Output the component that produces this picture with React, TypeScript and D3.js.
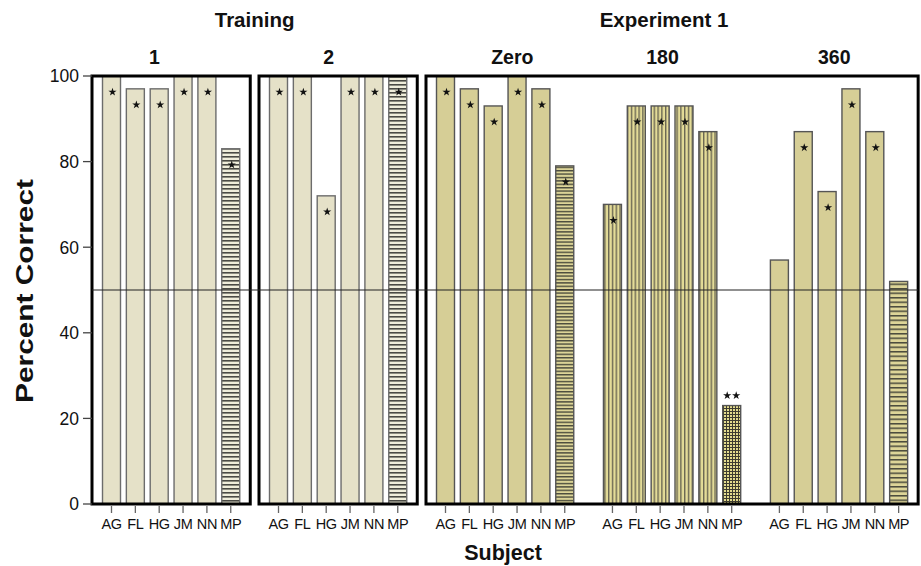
import React from 'react';
import * as d3 from 'd3';

const subjects = ['AG', 'FL', 'HG', 'JM', 'NN', 'MP'];
const training1 = [100, 97, 97, 100, 100, 83];
const training2 = [100, 100, 72, 100, 100, 100];
const expZero = [100, 97, 93, 100, 97, 79];
const exp180 = [70, 93, 93, 93, 87, 23];
const exp360 = [57, 87, 73, 97, 87, 52];
// 1 = star inside bar, 2 = double star above bar, 0 = none
const marks1 = [1, 1, 1, 1, 1, 1];
const marks2 = [1, 1, 1, 1, 1, 1];
const marksZero = [1, 1, 1, 1, 1, 1];
const marks180 = [1, 1, 1, 1, 1, 2];
const marks360 = [0, 1, 1, 1, 1, 0];
const groupLabels = ['1', '2', 'Zero', '180', '360'];
const yTicks = [0, 20, 40, 60, 80, 100];
const chanceLevel = 50;

const FONT = "'Liberation Sans', Arial, Helvetica, sans-serif";
const W = 921;
const H = 566;

const y = d3.scaleLinear().domain([0, 100]).range([504, 76]);
const step = 23.85;
const pad = 19.5;
const panelGap = 8.75;

type Group = {
  label: string;
  values: number[];
  marks: number[];
  panel: number;
  mpFill: string;
  barFill: string;
  labelShift: number;
};

const TRAIN = '#e5e1c8';
const EXP = '#d6ce96';

const groups: Group[] = [
  { label: groupLabels[0], values: training1, marks: marks1, panel: 0, barFill: TRAIN, mpFill: 'url(#hTrain)', labelShift: -0.7 },
  { label: groupLabels[1], values: training2, marks: marks2, panel: 1, barFill: TRAIN, mpFill: 'url(#hTrain)', labelShift: -0.4 },
  { label: groupLabels[2], values: expZero, marks: marksZero, panel: 2, barFill: EXP, mpFill: 'url(#hZero)', labelShift: 0.3 },
  { label: groupLabels[3], values: exp180, marks: marks180, panel: 2, barFill: 'url(#vStripe)', mpFill: 'url(#grid)', labelShift: -0.4 },
  { label: groupLabels[4], values: exp360, marks: marks360, panel: 2, barFill: EXP, mpFill: 'url(#h360)', labelShift: -0.2 },
];

const panelSlots: string[][] = [[], [], []];
groups.forEach((g, gi) => {
  const slots = panelSlots[g.panel];
  if (slots.length > 0) slots.push(`gap-${gi}`);
  subjects.forEach((s) => slots.push(`${gi}-${s}`));
});

const panels: { left: number; right: number; scale: d3.ScalePoint<string> }[] = [];
let cursor = 92;
panelSlots.forEach((slots) => {
  const width = (slots.length - 1) * step + 2 * pad;
  const left = cursor;
  const right = cursor + width;
  const scale = d3.scalePoint<string>().domain(slots).range([left + pad, right - pad]);
  panels.push({ left, right, scale });
  cursor = right + panelGap;
});

const barW = 18;
const starPath = d3.symbol().type(d3.symbolStar).size(21)() as string;

export default function App() {
  const bars: React.ReactNode[] = [];
  const stars: React.ReactNode[] = [];
  const ticks: React.ReactNode[] = [];
  const labels: React.ReactNode[] = [];
  const subLabels: React.ReactNode[] = [];

  groups.forEach((g, gi) => {
    const p = panels[g.panel];
    const xs = subjects.map((s) => p.scale(`${gi}-${s}`) as number);
    g.values.forEach((v, i) => {
      const cx = xs[i];
      const isMP = subjects[i] === 'MP';
      const top = y(v);
      bars.push(
        <rect
          key={`b-${gi}-${i}`}
          x={cx - barW / 2}
          y={top}
          width={barW}
          height={y(0) - top}
          fill={isMP ? g.mpFill : g.barFill}
          stroke={g.panel < 2 ? '#6c6c6c' : '#555'}
          strokeWidth={1.4}
        />
      );
      const m = g.marks[i];
      if (m === 1) {
        stars.push(<path key={`s-${gi}-${i}`} d={starPath} transform={`translate(${cx + 1},${top + 16})`} fill="#111" />);
      } else if (m === 2) {
        stars.push(<path key={`s-${gi}-${i}a`} d={starPath} transform={`translate(${cx - 4.5},${top - 10})`} fill="#111" />);
        stars.push(<path key={`s-${gi}-${i}b`} d={starPath} transform={`translate(${cx + 4.5},${top - 10})`} fill="#111" />);
      }
      ticks.push(<line key={`t-${gi}-${i}`} x1={cx} x2={cx} y1={y(0) + 2} y2={y(0) + 9} stroke="#666" strokeWidth={1.3} />);
      labels.push(
        <text key={`l-${gi}-${i}`} x={cx} y={529} textAnchor="middle" fontSize={14.5} fontFamily={FONT} fill="#111" letterSpacing={-0.4}>
          {subjects[i]}
        </text>
      );
    });
    const mid = (xs[0] + xs[5]) / 2 + g.labelShift * step;
    subLabels.push(
      <text key={`g-${gi}`} x={mid} y={64} textAnchor="middle" fontSize={19.5} fontWeight="bold" fontFamily={FONT} fill="#111">
        {g.label}
      </text>
    );
  });

  const trainingMid = (panels[0].left + panels[1].right) / 2;
  const expMid = (panels[2].left + panels[2].right) / 2 - 8;

  return (
    <div style={{ position: 'absolute', left: 0, top: 0 }}>
      <svg width={W} height={H} viewBox={`0 0 ${W} ${H}`} style={{ display: 'block', background: '#fff' }}>
        <defs>
          <pattern id="hTrain" width={4} height={4} patternUnits="userSpaceOnUse">
            <rect width={4} height={4} fill="#efedda" />
            <rect width={4} height={1.6} fill="#4a4a44" />
          </pattern>
          <pattern id="hZero" width={4} height={3.4} patternUnits="userSpaceOnUse">
            <rect width={4} height={3.4} fill="#ddd598" />
            <rect width={4} height={1.4} fill="#4a4a3c" />
          </pattern>
          <pattern id="h360" width={4} height={4.5} patternUnits="userSpaceOnUse">
            <rect width={4} height={4.5} fill="#ddd598" />
            <rect width={4} height={1.5} fill="#4a4a3c" />
          </pattern>
          <pattern id="vStripe" width={3.8} height={4} patternUnits="userSpaceOnUse">
            <rect width={3.8} height={4} fill="#e4dc98" />
            <rect width={1.4} height={4} fill="#6a6752" />
          </pattern>
          <pattern id="grid" width={3} height={3} patternUnits="userSpaceOnUse">
            <rect width={3} height={3} fill="#e4dc8e" />
            <rect width={3} height={1} fill="#3e3c30" />
            <rect width={1} height={3} fill="#3e3c30" />
          </pattern>
        </defs>

        {bars}

        {panels.map((p, i) => (
          <rect key={`p-${i}`} x={p.left} y={y(100)} width={p.right - p.left} height={y(0) - y(100)} fill="none" stroke="#000" strokeWidth={3} />
        ))}

        <line x1={panels[0].left} x2={panels[2].right} y1={y(chanceLevel)} y2={y(chanceLevel)} stroke="#222" strokeWidth={1.1} />

        {stars}
        {ticks}
        {labels}

        {yTicks.map((t) => (
          <g key={`y-${t}`}>
            <line x1={83} x2={panels[0].left} y1={y(t)} y2={y(t)} stroke="#444" strokeWidth={1.3} />
            <text x={79} y={y(t)} dy="0.36em" textAnchor="end" fontSize={17.5} fontFamily={FONT} fill="#111">
              {t}
            </text>
          </g>
        ))}

        {subLabels}

        <text x={trainingMid} y={27} textAnchor="middle" fontSize={20.5} fontWeight="bold" fontFamily={FONT} fill="#111">
          Training
        </text>
        <text x={expMid} y={27} textAnchor="middle" fontSize={20.5} fontWeight="bold" fontFamily={FONT} fill="#111">
          Experiment 1
        </text>
        <text x={503} y={560} textAnchor="middle" fontSize={21.5} fontWeight="bold" fontFamily={FONT} fill="#111">
          Subject
        </text>
        <text
          transform={`translate(33,291) rotate(-90)`}
          textAnchor="middle"
          fontSize={23}
          fontWeight="bold"
          fontFamily={FONT}
          fill="#111"
          textLength={224}
          lengthAdjust="spacingAndGlyphs"
        >
          Percent Correct
        </text>
      </svg>
    </div>
  );
}
